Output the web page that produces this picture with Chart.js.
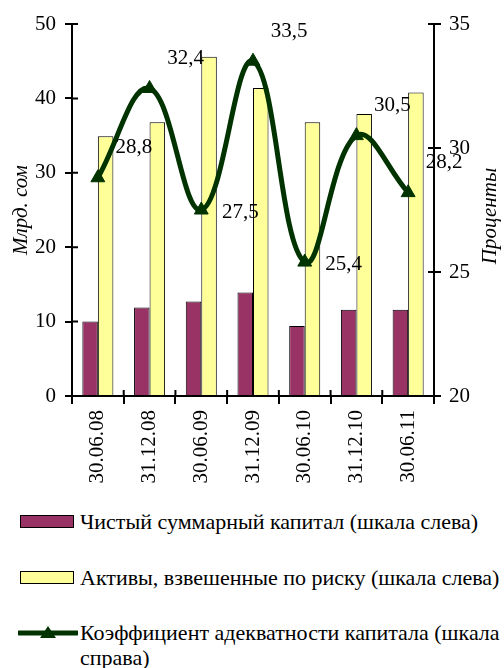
<!DOCTYPE html>
<html>
<head>
<meta charset="utf-8">
<script src="https://cdn.jsdelivr.net/npm/chart.js@4"></script>
<style>
body { margin: 0; background: #fff; font-family: "Times New Roman", "Liberation Serif", "DejaVu Serif", serif; }
#wrap { position: relative; width: 504px; height: 490px; }
.row { position: absolute; left: 0; width: 504px; font-size: 22px; line-height: 25px; color: #000; }
.row span { position: absolute; left: 80px; top: 0; width: 424px; }
.box { position: absolute; left: 20px; top: 6px; width: 54px; height: 13px; box-sizing: border-box; border: 1.5px solid #000; }
.row svg { position: absolute; left: 18px; top: 2px; }
</style>
</head>
<body>
<div id="wrap"><canvas id="bankChart"></canvas></div>
<div class="row" style="top:509px"><div class="box" style="background:#993366"></div><span>Чистый суммарный капитал (шкала слева)</span></div>
<div class="row" style="top:565px"><div class="box" style="background:#FFFF99"></div><span>Активы, взвешенные по риску (шкала слева)</span></div>
<div class="row" style="top:620px"><svg width="60" height="22"><line x1="1" y1="11" x2="59" y2="11" stroke="#003300" stroke-width="5" stroke-linecap="round"/><polygon points="30,4 38,16 22,16" fill="#003300"/></svg><span>Коэффициент адекватности капитала (шкала справа)</span></div>

<script>
const labels = ['30.06.08', '31.12.08', '30.06.09', '31.12.09', '30.06.10', '31.12.10', '30.06.11'];
const netCapital = [10.0, 11.9, 12.7, 13.9, 9.4, 11.6, 11.6];
const riskAssets = [34.9, 36.8, 45.6, 41.4, 36.8, 37.9, 40.8];
const adequacyRatio = [28.8, 32.4, 27.5, 33.5, 25.4, 30.5, 28.2];

const serif = '"Times New Roman", "Liberation Serif", "DejaVu Serif", serif';

// value labels next to the ratio line, right axis title, inner halves of tick marks
const extras = {
    id: 'extras',
    afterDatasetsDraw(chart) {
        const ctx = chart.ctx;
        const a = chart.chartArea;
        ctx.save();

        ctx.strokeStyle = '#000';
        ctx.lineWidth = 2;
        ctx.beginPath();
        const sy = chart.scales.y, sy1 = chart.scales.y1, sx = chart.scales.x;
        sy.ticks.forEach(t => { const p = sy.getPixelForValue(t.value); ctx.moveTo(a.left, p); ctx.lineTo(a.left + 6, p); });
        sy1.ticks.forEach(t => { const p = sy1.getPixelForValue(t.value); ctx.moveTo(a.right, p); ctx.lineTo(a.right - 6, p); });
        for (let i = 0; i <= labels.length; i++) {
            const p = a.left + i * (a.right - a.left) / labels.length;
            ctx.moveTo(p, a.bottom); ctx.lineTo(p, a.bottom - 6);
        }
        ctx.stroke();

        const meta = chart.getDatasetMeta(2);
        ctx.font = '21px ' + serif;
        ctx.fillStyle = '#000';
        ctx.textAlign = 'center';
        ctx.textBaseline = 'middle';
        meta.data.forEach((pt, i) => {
            const v = adequacyRatio[i];
            const dip = i > 0 && i < adequacyRatio.length - 1 && v < adequacyRatio[i - 1] && v < adequacyRatio[i + 1];
            const dx = dip ? 39 : 36;
            const dy = dip ? 2 : -30;
            ctx.fillText(v.toFixed(1).replace('.', ','), pt.x + dx, pt.y + dy);
        });
        ctx.translate(490, (a.top + a.bottom) / 2 + 6);
        ctx.rotate(-Math.PI / 2);
        ctx.font = 'italic 21px ' + serif;
        ctx.fillText('Проценты', 0, 0);
        ctx.restore();
    }
};

const ctx = document.getElementById('bankChart').getContext('2d');
new Chart(ctx, {
    type: 'bar',
    data: {
        labels: labels,
        datasets: [{
            label: 'Чистый суммарный капитал (шкала слева)',
            data: netCapital,
            backgroundColor: '#993366',
            borderColor: '#000',
            borderWidth: 1,
            yAxisID: 'y',
            order: 1
        }, {
            label: 'Активы, взвешенные по риску (шкала слева)',
            data: riskAssets,
            backgroundColor: '#FFFF99',
            borderColor: '#000',
            borderWidth: 1,
            yAxisID: 'y',
            order: 1
        }, {
            type: 'line',
            label: 'Коэффициент адекватности капитала (шкала справа)',
            data: adequacyRatio,
            borderColor: '#003300',
            backgroundColor: '#003300',
            borderWidth: 5,
            pointStyle: 'triangle',
            pointRadius: 8,
            pointBorderWidth: 1,
            tension: 0.4,
            yAxisID: 'y1',
            order: 0
        }]
    },
    options: {
        responsive: true,
        maintainAspectRatio: false,
        animation: false,
        layout: { padding: { top: 24, left: 0, right: 0, bottom: 0 } },
        datasets: { bar: { categoryPercentage: 0.6, barPercentage: 1.0 } },
        plugins: { legend: { display: false }, tooltip: { enabled: false } },
        scales: {
            x: {
                grid: { drawOnChartArea: false, offset: true, tickLength: 8, color: '#000', lineWidth: 2 },
                border: { color: '#000', width: 2 },
                ticks: { minRotation: 90, maxRotation: 90, color: '#000', padding: 6, font: { family: serif, size: 21 } },
                afterFit: s => { s.height = 94; }
            },
            y: {
                position: 'left',
                min: 0, max: 50,
                grid: { drawOnChartArea: false, tickLength: 7, color: '#000', lineWidth: 2 },
                border: { color: '#000', width: 2 },
                ticks: { stepSize: 10, color: '#000', padding: 9, font: { family: serif, size: 21 } },
                title: { display: true, text: 'Млрд. сом', color: '#000', padding: { top: 9, bottom: 0 }, font: { family: serif, size: 21, style: 'italic' } },
                afterFit: s => { s.width = 72; }
            },
            y1: {
                position: 'right',
                min: 20, max: 35,
                grid: { drawOnChartArea: false, tickLength: 7, color: '#000', lineWidth: 2 },
                border: { color: '#000', width: 2 },
                ticks: { stepSize: 5, color: '#000', padding: 8, font: { family: serif, size: 21 } },
                afterFit: s => { s.width = 70; }
            }
        }
    },
    plugins: [extras]
});
</script>
</body>
</html>
